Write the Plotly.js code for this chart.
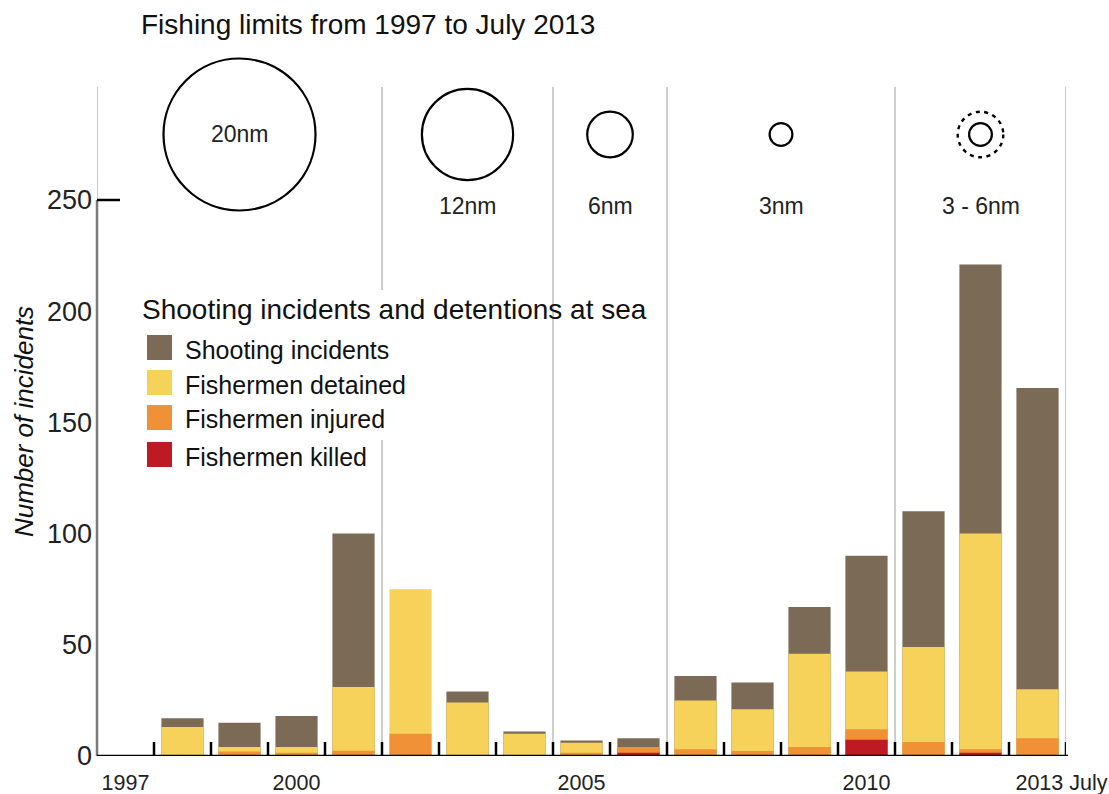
<!DOCTYPE html>
<html>
<head>
<meta charset="utf-8">
<script src="https://cdn.plot.ly/plotly-3.0.1.min.js"></script>
<style>html,body{margin:0;padding:0;background:#fff;}#chart{width:1109px;height:794px;}</style>
</head>
<body>
<div id="chart"></div>
<script>
// ---- data ----
const years = [1998,1999,2000,2001,2002,2003,2004,2005,2006,2007,2008,2009,2010,2011,2012,2013];
const shooting = [17,15,18,100,0,29,11,7,8,36,33,67,90,110,221,165.5];
const detained = [13,4,4,31,75,24,10,6,0,25,21,46,38,49,100,30];
const injured  = [0,2,1.5,2.4,10,0,0,1.5,4,3,2.2,4,12,6.3,3,8];
const killed   = [0,0,0,0,0,0,0,0,1.5,0,0,0,7.3,0,1.5,0];
const seriesNames = ['Shooting incidents','Fishermen detained','Fishermen injured','Fishermen killed'];
const seriesColors = ['#7b6b56','#f7d25b','#f09137','#bd1a24'];
// fishing limit periods (nautical miles)
const periodBounds = [1996.5, 2001.5, 2004.5, 2006.5, 2010.5, 2013.5];
const periodLabels = ['20nm','12nm','6nm','3nm','3 - 6nm'];
const periodLimitMin = [20,12,6,3,3];
const periodLimitMax = [20,12,6,3,6];
const tickVals = [1997,2000,2005,2010,2013.42];
const tickText = ['1997','2000','2005','2010','2013 July'];
const yTicks = [0,50,100,150,200,250];

// ---- layout helpers (pixel -> paper) ----
const L = 97, R = 1066, T = 87, B = 756;
const px = x => (x - L) / (R - L);
const py = y => (B - y) / (B - T);
const FONT = '"Liberation Sans", Arial, Helvetica, sans-serif';
const pxPerNm = 3.8;

const allSeries = [shooting, detained, injured, killed];
const traces = allSeries.map((vals, i) => ({
  type: 'bar', x: years, y: vals, name: seriesNames[i],
  marker: {color: seriesColors[i], line: {width: 0}},
  width: 0.74, showlegend: false, hoverinfo: 'x+y+name'
}));

const shapes = [];
const annotations = [];

// period boundary lines
periodBounds.forEach((b, i) => {
  if (i === 1) {
    shapes.push({type:'line', xref:'x', yref:'paper', x0:b, x1:b, y0:py(290), y1:1, line:{color:'#9a9a9a', width:1}});
    shapes.push({type:'line', xref:'x', yref:'paper', x0:b, x1:b, y0:0, y1:py(440), line:{color:'#9a9a9a', width:1}});
  } else {
    shapes.push({type:'line', xref:'x', yref:'paper', x0:b, x1:b, y0:0, y1:1, line:{color:'#9a9a9a', width:1}});
  }
});

// circles for fishing limits
const cy = py(134.5);
periodLabels.forEach((lab, i) => {
  const cx = (periodBounds[i] + periodBounds[i+1]) / 2;
  const rMin = periodLimitMin[i] * pxPerNm;
  const rMax = periodLimitMax[i] * pxPerNm;
  shapes.push({type:'circle', xref:'x', yref:'paper', xsizemode:'pixel', ysizemode:'pixel',
    xanchor:cx, yanchor:cy, x0:-rMin, x1:rMin, y0:-rMin, y1:rMin, line:{color:'#000', width:2.2}});
  if (rMax !== rMin) {
    shapes.push({type:'circle', xref:'x', yref:'paper', xsizemode:'pixel', ysizemode:'pixel',
      xanchor:cx, yanchor:cy, x0:-rMax, x1:rMax, y0:-rMax, y1:rMax, line:{color:'#000', width:2.4, dash:'4px,4.5px'}});
  }
  const inside = rMin > 60;
  annotations.push({xref:'x', yref:'paper', x:cx, y: inside ? cy : py(206), text:lab, showarrow:false,
    xanchor:'center', yanchor:'middle', font:{family:FONT, size:23, color:'#222'}});
});

// y axis line and ticks
shapes.push({type:'line', xref:'paper', yref:'y', x0:0, x1:0, y0:0, y1:250, line:{color:'#7a7a7a', width:2.5}});
shapes.push({type:'line', xref:'paper', yref:'y', x0:0, x1:px(120), y0:250, y1:250, line:{color:'#000', width:2.5}});
// baseline
shapes.push({type:'line', xref:'paper', yref:'y', x0:0, x1:px(1068), y0:0, y1:0, line:{color:'#000', width:2.5}});
// baseline ticks between years
for (let k = 0; k <= years.length; k++) {
  const xv = years[0] - 0.5 + k;
  shapes.push({type:'line', xref:'x', yref:'y', ysizemode:'pixel', yanchor:0, x0:xv, x1:xv, y0:0, y1:14, line:{color:'#000', width:2.5}});
}

// manual legend
annotations.push({xref:'paper', yref:'paper', x:px(140), y:py(309), text:'Shooting incidents and detentions at sea',
  showarrow:false, xanchor:'left', yanchor:'middle', font:{family:FONT, size:28, color:'#111'}});
const legY = [347.5, 382.5, 417.5, 454.5];
seriesNames.forEach((n, i) => {
  shapes.push({type:'rect', xref:'paper', yref:'paper', x0:px(147), x1:px(172), y0:py(legY[i]-12.5), y1:py(legY[i]+12.5),
    fillcolor:seriesColors[i], line:{width:0}});
  annotations.push({xref:'paper', yref:'paper', x:px(183), y:py(legY[i]+2), text:n, showarrow:false,
    xanchor:'left', yanchor:'middle', font:{family:FONT, size:25, color:'#111'}});
});

const layout = {
  width:1109, height:794,
  margin:{l:L, r:1109-R, t:T, b:794-B},
  paper_bgcolor:'#fff', plot_bgcolor:'#fff',
  barmode:'overlay',
  title:{text:'Fishing limits from 1997 to July 2013', xref:'container', yref:'container',
    x:141/1109, xanchor:'left', y:1-24/794, yanchor:'middle', font:{family:FONT, size:28, color:'#111'}},
  xaxis:{range:[1996.5, 2013.5], showgrid:false, zeroline:false, showline:false, ticks:'',
    tickvals:tickVals, ticktext:tickText, tickfont:{family:FONT, size:21.5, color:'#222'}, ticklabelstandoff:11, fixedrange:true},
  yaxis:{range:[0, (B-T)/2.224], showgrid:false, zeroline:false, showline:false, ticks:'',
    tickvals:yTicks, tickfont:{family:FONT, size:27, color:'#222'}, ticklabelstandoff:4,
    title:{text:'Number of incidents', font:{family:FONT, size:26, color:'#111', style:'italic'}, standoff:5},
    fixedrange:true},
  shapes:shapes, annotations:annotations,
  font:{family:FONT}
};

Plotly.newPlot('chart', traces, layout, {displayModeBar:false, staticPlot:true});
</script>
</body>
</html>
